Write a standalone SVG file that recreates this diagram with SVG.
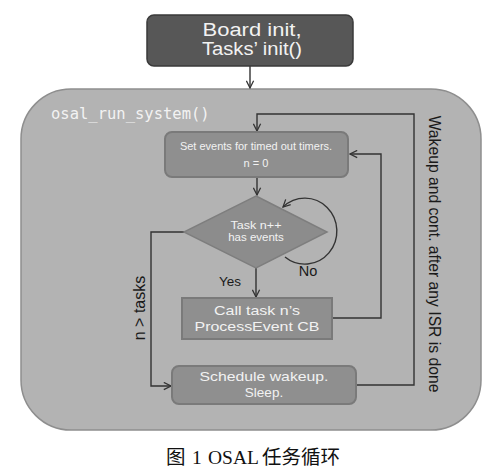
<svg xmlns="http://www.w3.org/2000/svg" width="501" height="474" viewBox="0 0 501 474">
<style>
.lbl{font-family:"Liberation Sans",Arial,sans-serif;fill:#f2f2f2;text-anchor:middle}
.blk{font-family:"Liberation Sans",Arial,sans-serif;fill:#1a1a1a}
.box{fill:#8f8f8f;stroke:#7a7a7a;stroke-width:2}
.conn{fill:none;stroke:#333;stroke-width:1.4}
</style>
<defs>
<marker id="arr" viewBox="0 0 10 10" refX="9" refY="5" markerWidth="9" markerHeight="9" markerUnits="userSpaceOnUse" orient="auto">
<polyline points="1,1 9,5 1,9" fill="none" stroke="#333" stroke-width="1.4"/>
</marker>
</defs>
<rect width="501" height="474" fill="#ffffff"/>
<g id="container">
<rect x="21" y="89" width="460" height="341" rx="50" ry="50" fill="#b3b3b3" stroke="#8e8e8e" stroke-width="1.5"/>
<text x="51" y="119" font-family="'DejaVu Sans Mono',monospace" font-size="15.5" fill="#f2f2f2">osal_run_system()</text>
</g>
<g id="connectors">
<path class="conn" d="M250 66 V88" marker-end="url(#arr)"/>
<path class="conn" d="M356 385 H414 V114 H257 V131" marker-end="url(#arr)"/>
<path class="conn" d="M257 177 V195" marker-end="url(#arr)"/>
<path class="conn" d="M256 268 V297" marker-end="url(#arr)"/>
<path class="conn" d="M332 318 H381 V154 H350" marker-end="url(#arr)"/>
<path class="conn" d="M184 232 H151 V386 H171" marker-end="url(#arr)"/>
<path class="conn" d="M285 257 A32 33 0 1 0 283 207" marker-end="url(#arr)"/>
<text class="blk" x="230" y="286" font-size="13.5" text-anchor="middle">Yes</text>
<text class="blk" x="308" y="276" font-size="14.5" text-anchor="middle">No</text>
<text class="blk" transform="translate(145 308) rotate(-90)" font-size="16" text-anchor="middle">n &gt; tasks</text>
<text class="blk" transform="translate(429 254) rotate(90)" font-size="15.7" text-anchor="middle">Wakeup and cont. after any ISR is done</text>
</g>
<g id="init">
<rect x="147" y="15" width="206" height="51" rx="7" fill="#575757" stroke="#3a3a3a" stroke-width="1.5"/>
<text class="lbl" x="252" y="36" font-size="18" textLength="99" lengthAdjust="spacingAndGlyphs">Board init,</text>
<text class="lbl" x="252" y="55" font-size="18" textLength="100" lengthAdjust="spacingAndGlyphs">Tasks’ init()</text>
</g>
<g id="set-events">
<rect class="box" x="165" y="132" width="183" height="45" rx="7"/>
<text class="lbl" x="256" y="150" font-size="11">Set events for timed out timers.</text>
<text class="lbl" x="256" y="167" font-size="11">n = 0</text>
</g>
<g id="decision">
<polygon points="256,196 327,232 256,268 184,232" fill="#8c8c8c" stroke="#7e7e7e" stroke-width="1.5"/>
<text class="lbl" x="256" y="229" font-size="11.5" textLength="51" lengthAdjust="spacingAndGlyphs">Task n++</text>
<text class="lbl" x="256" y="241" font-size="11.5">has events</text>
</g>
<g id="call-task">
<rect class="box" x="182" y="298" width="150" height="41"/>
<text class="lbl" x="257" y="315" font-size="13.5" textLength="86" lengthAdjust="spacingAndGlyphs">Call task n’s</text>
<text class="lbl" x="257" y="330.5" font-size="13.5" textLength="125" lengthAdjust="spacingAndGlyphs">ProcessEvent CB</text>
</g>
<g id="schedule">
<rect class="box" x="172" y="366" width="184" height="38" rx="7"/>
<text class="lbl" x="264" y="381" font-size="13.5" textLength="129" lengthAdjust="spacingAndGlyphs">Schedule wakeup.</text>
<text class="lbl" x="264" y="396.5" font-size="13.5">Sleep.</text>
</g>
<text y="464" font-family="'Liberation Serif','Noto Sans CJK SC',serif" font-size="19.5" fill="#111"><tspan x="166">图</tspan><tspan x="192">1</tspan><tspan x="208">OSAL</tspan><tspan x="262">任务循环</tspan></text>
</svg>
